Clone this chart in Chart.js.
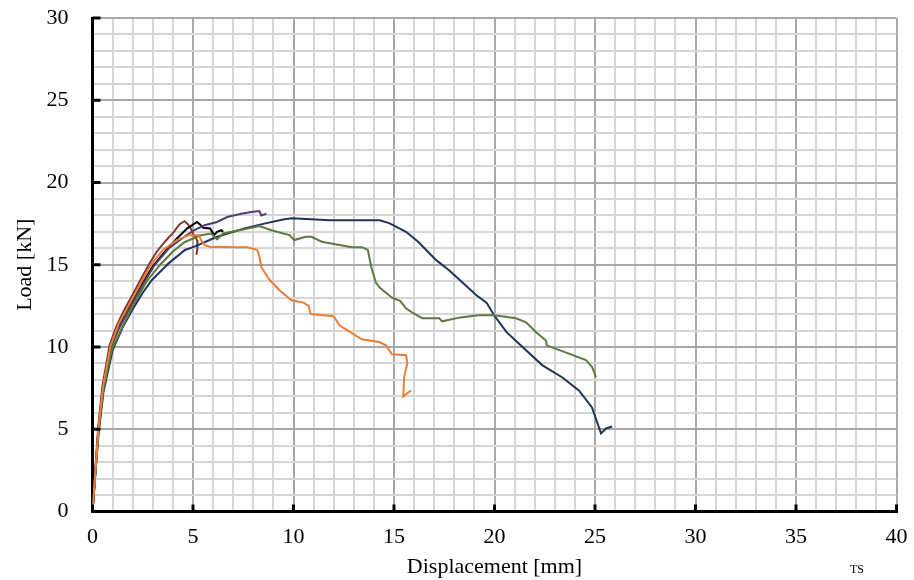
<!DOCTYPE html>
<html>
<head>
<meta charset="utf-8">
<script src="https://cdn.jsdelivr.net/npm/chart.js@4"></script>
<style>
  body { margin: 0; background: #fff; }
  #wrap { position: relative; width: 914px; height: 580px; }
  #ts { position: absolute; left: 850px; top: 562px; font: 12px "Liberation Serif", serif; color: #000; }
</style>
</head>
<body>
<div id="wrap">
  <canvas id="myChart" width="914" height="580"></canvas>
  <div id="ts">TS</div>
</div>
<script>
// displacement [mm] / load [kN], one pair per specimen
const navyX = [0, 0.12, 0.3, 0.55, 1.0, 1.5, 2.0, 2.5, 2.95, 3.8, 4.6, 5.07, 6.2, 7.55, 8.55, 9.54, 9.94, 11.8, 13.27, 14.3, 14.76, 15.6, 16.2, 17.1, 17.74, 19.1, 19.6, 19.98, 20.6, 21.57, 22.37, 23.36, 24.2, 24.85, 25.3, 25.55, 25.85];
const navyY = [0, 1.9, 4.7, 7.3, 9.8, 11.2, 12.3, 13.3, 14.06, 15.1, 15.9, 16.1, 16.7, 17.2, 17.5, 17.77, 17.83, 17.71, 17.7, 17.7, 17.53, 17.0, 16.4, 15.28, 14.67, 13.15, 12.7, 11.93, 10.9, 9.8, 8.9, 8.16, 7.36, 6.33, 4.75, 5.05, 5.17];

const greenX = [0, 0.12, 0.3, 0.55, 0.95, 1.4, 2.0, 2.7, 3.4, 4.0, 4.57, 5.4, 5.9, 6.2, 6.5, 7.55, 8.3, 8.9, 9.8, 10.04, 10.6, 10.9, 11.4, 12.9, 13.4, 13.7, 13.87, 14.1, 14.3, 14.9, 15.3, 15.6, 15.9, 16.4, 17.25, 17.4, 18.3, 19.2, 19.98, 21.07, 21.57, 22.07, 22.56, 22.6, 23.7, 24.55, 24.85, 25.05];
const greenY = [0, 2.0, 4.9, 7.5, 9.8, 11.0, 12.5, 14.0, 15.05, 15.8, 16.37, 16.8, 16.9, 16.55, 16.9, 17.16, 17.35, 17.1, 16.8, 16.5, 16.7, 16.7, 16.4, 16.07, 16.07, 15.9, 14.85, 13.9, 13.6, 13.0, 12.8, 12.35, 12.1, 11.75, 11.75, 11.56, 11.8, 11.93, 11.93, 11.75, 11.5, 10.9, 10.4, 10.1, 9.6, 9.2, 8.8, 8.16];

const orangeX = [0, 0.12, 0.29, 0.52, 0.88, 1.3, 1.7, 2.1, 2.5, 2.9, 3.5, 4.2, 4.8, 5.3, 5.4, 5.57, 5.9, 6.2, 7.06, 7.7, 8.2, 8.3, 8.4, 8.8, 9.3, 9.9, 10.5, 10.75, 10.85, 12.0, 12.3, 13.4, 14.26, 14.6, 14.9, 15.6, 15.66, 15.5, 15.46, 15.85];
const orangeY = [0, 2.0, 5.0, 7.6, 10.0, 11.4, 12.3, 13.2, 14.1, 15.0, 15.9, 16.5, 16.8, 16.8, 16.5, 16.2, 16.07, 16.1, 16.07, 16.07, 15.9, 15.5, 14.85, 14.1, 13.45, 12.84, 12.7, 12.5, 12.0, 11.87, 11.3, 10.47, 10.3, 10.1, 9.56, 9.5, 9.0, 8.16, 7.0, 7.36];

const blackX = [0, 0.12, 0.29, 0.52, 0.88, 1.3, 1.7, 2.1, 2.5, 3.0, 3.6, 4.2, 4.7, 5.2, 5.35, 5.5, 5.85, 6.05, 6.2, 6.4, 6.5];
const blackY = [0, 2.0, 5.0, 7.6, 10.0, 11.3, 12.2, 13.0, 13.9, 14.9, 15.8, 16.6, 17.2, 17.6, 17.45, 17.25, 17.2, 16.8, 17.0, 17.1, 17.0];

const purpleX = [0, 0.12, 0.29, 0.52, 0.9, 1.3, 1.7, 2.1, 2.6, 3.1, 3.8, 4.57, 5.07, 5.57, 6.2, 6.7, 7.4, 7.9, 8.3, 8.4, 8.65];
const purpleY = [0, 2.0, 4.9, 7.5, 9.9, 11.1, 12.0, 12.9, 14.0, 15.0, 16.0, 16.7, 17.1, 17.4, 17.6, 17.9, 18.1, 18.2, 18.26, 18.0, 18.1];

const brownX = [0, 0.12, 0.28, 0.5, 0.85, 1.2, 1.6, 2.0, 2.4, 2.8, 3.2, 3.6, 4.05, 4.32, 4.57, 4.72, 4.85, 5.0, 5.2, 5.22, 5.17];
const brownY = [0, 2.1, 5.1, 7.7, 10.1, 11.3, 12.3, 13.2, 14.1, 15.0, 15.8, 16.4, 17.0, 17.45, 17.65, 17.5, 17.3, 16.9, 16.5, 16.0, 15.6];

const xTicks = [0, 5, 10, 15, 20, 25, 30, 35, 40];
const yTicks = [0, 5, 10, 15, 20, 25, 30];

function pts(xs, ys) {
  return xs.map((x, i) => ({ x: x, y: ys[i] }));
}

function serie(xs, ys, color) {
  return {
    data: pts(xs, ys),
    borderColor: color,
    borderWidth: 2,
    pointRadius: 0,
    showLine: true,
    tension: 0,
    fill: false
  };
}

const serif = '"Liberation Serif", "Times New Roman", serif';

// small black ticks pointing into the plot at the labelled values
const innerTicks = {
  id: 'innerTicks',
  afterDraw(chart) {
    const c = chart.ctx;
    const xs = chart.scales.x, ys = chart.scales.y;
    const a = chart.chartArea;
    c.save();
    c.strokeStyle = '#000';
    c.lineWidth = 3;
    xTicks.forEach(v => {
      const px = xs.getPixelForValue(v);
      c.beginPath(); c.moveTo(px, a.bottom); c.lineTo(px, a.bottom - 7); c.stroke();
    });
    yTicks.forEach(v => {
      const py = ys.getPixelForValue(v);
      c.beginPath(); c.moveTo(a.left, py); c.lineTo(a.left + 8, py); c.stroke();
    });
    c.restore();
  }
};

const gridColor = ctx => (ctx.tick && ctx.tick.value % 5 === 0) ? '#a8a8a8' : '#d6d6d6';

const ctx = document.getElementById('myChart').getContext('2d');
const myChart = new Chart(ctx, {
  type: 'scatter',
  data: {
    datasets: [
      serie(orangeX, orangeY, '#ed7d31'),
      serie(greenX, greenY, '#5b7a3c'),
      serie(navyX, navyY, '#1f3458'),
      serie(purpleX, purpleY, '#4f3f6e'),
      serie(blackX, blackY, '#000000'),
      serie(brownX, brownY, '#7e3a3a')
    ]
  },
  options: {
    responsive: false,
    animation: false,
    layout: { padding: { top: 18, right: 17.5, left: 0, bottom: 0 } },
    plugins: { legend: { display: false }, tooltip: { enabled: false } },
    scales: {
      x: {
        type: 'linear',
        min: 0, max: 40,
        afterFit: s => { s.height = 68.5; s.paddingLeft = 0; s.paddingRight = 0; },
        ticks: {
          stepSize: 1, autoSkip: false, maxRotation: 0, padding: 13,
          color: '#000', font: { family: serif, size: 22 },
          callback: v => xTicks.includes(v) ? v : ''
        },
        grid: { color: gridColor, lineWidth: 2, drawTicks: false },
        border: { color: '#000', width: 3 },
        title: {
          display: true, text: 'Displacement [mm]', color: '#000',
          font: { family: serif, size: 22, lineHeight: 1.2 },
          padding: { top: 0, bottom: 0 }
        }
      },
      y: {
        type: 'linear',
        min: 0, max: 30,
        afterFit: s => { s.width = 92.5; s.paddingTop = 0; s.paddingBottom = 0; },
        ticks: {
          stepSize: 1, autoSkip: false, padding: 24,
          color: '#000', font: { family: serif, size: 22 },
          callback: v => yTicks.includes(v) ? v : ''
        },
        grid: { color: gridColor, lineWidth: 2, drawTicks: false },
        border: { color: '#000', width: 3 },
        title: {
          display: true, text: 'Load [kN]', color: '#000',
          font: { family: serif, size: 22, lineHeight: 1.2 },
          padding: { top: 12, bottom: 0 }
        }
      }
    }
  },
  plugins: [innerTicks]
});
</script>
</body>
</html>
